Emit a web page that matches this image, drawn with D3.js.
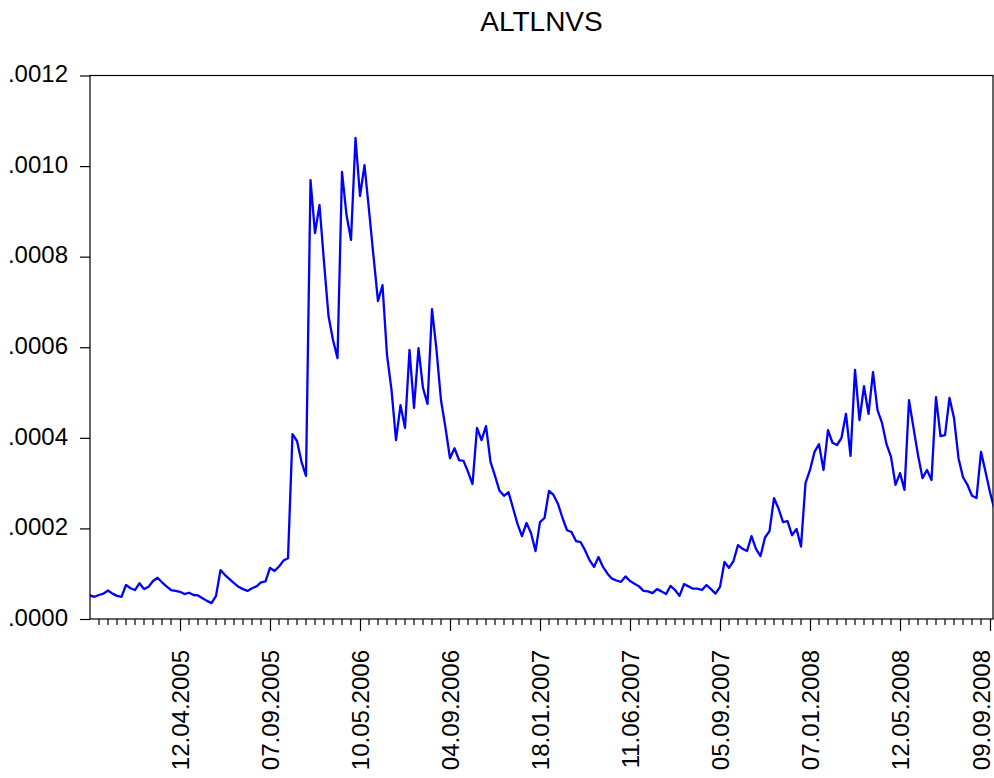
<!DOCTYPE html>
<html>
<head>
<meta charset="utf-8">
<script src="https://cdn.jsdelivr.net/npm/d3@7"></script>
<style>
  html, body { margin: 0; padding: 0; background: #fff; }
  svg { display: block; }
  text { font-family: "Liberation Sans", Arial, sans-serif; fill: #000; }
</style>
</head>
<body>
<svg id="chart" width="994" height="778"></svg>
<script>
// Series title
const seriesName = "ALTLNVS";

// Observations of ALTLNVS, in units of 1e-4 (one value per observation)
const valuesE4 = [
  0.52, 0.49, 0.53, 0.56, 0.63, 0.56, 0.51, 0.49, 0.75, 0.68,
  0.64, 0.79, 0.66, 0.71, 0.84, 0.91, 0.81, 0.72, 0.64, 0.62,
  0.60, 0.55, 0.58, 0.53, 0.52, 0.46, 0.40, 0.35, 0.51, 1.08,
  0.97, 0.88, 0.79, 0.71, 0.66, 0.62, 0.68, 0.72, 0.81, 0.83,
  1.13, 1.06, 1.16, 1.29, 1.34, 4.08, 3.93, 3.47, 3.16, 9.69,
  8.52, 9.14, 7.88, 6.69, 6.16, 5.76, 9.87, 8.92, 8.37, 10.62,
  9.34, 10.02, 9.03, 8.01, 7.02, 7.37, 5.83, 5.06, 3.95, 4.72,
  4.22, 5.94, 4.66, 5.98, 5.10, 4.75, 6.84, 5.94, 4.83, 4.22,
  3.55, 3.77, 3.51, 3.49, 3.25, 2.98, 4.22, 3.95, 4.26, 3.47,
  3.16, 2.83, 2.72, 2.80, 2.45, 2.10, 1.83, 2.12, 1.90, 1.50,
  2.14, 2.23, 2.83, 2.74, 2.54, 2.23, 1.96, 1.92, 1.72, 1.70,
  1.52, 1.30, 1.15, 1.37, 1.15, 1.00, 0.89, 0.85, 0.82, 0.94,
  0.84, 0.78, 0.72, 0.62, 0.61, 0.57, 0.66, 0.61, 0.55, 0.73,
  0.64, 0.51, 0.77, 0.72, 0.67, 0.67, 0.64, 0.75, 0.66, 0.56,
  0.71, 1.26, 1.13, 1.28, 1.63, 1.55, 1.50, 1.83, 1.55, 1.39,
  1.80, 1.94, 2.67, 2.44, 2.14, 2.16, 1.85, 1.99, 1.60, 3.00,
  3.29, 3.69, 3.86, 3.29, 4.17, 3.89, 3.84, 4.00, 4.53, 3.60,
  5.50, 4.39, 5.14, 4.53, 5.45, 4.61, 4.33, 3.86, 3.58, 2.96,
  3.22, 2.85, 4.83, 4.22, 3.62, 3.11, 3.29, 3.07, 4.90, 4.04,
  4.06, 4.88, 4.44, 3.55, 3.13, 2.96, 2.72, 2.67, 3.69, 3.25,
  2.80, 2.41
];

// Labelled observations on the date axis
const dateTickIndex = [20, 40, 60, 80, 100, 120, 140, 160, 180, 200];
const dateTickLabels = [
  "12.04.2005", "07.09.2005", "10.05.2006", "04.09.2006", "18.01.2007",
  "11.06.2007", "05.09.2007", "07.01.2008", "12.05.2008", "09.09.2008"
];

// Value axis ticks
const yTickValues = [0, 0.0002, 0.0004, 0.0006, 0.0008, 0.0010, 0.0012];
const yTickLabels = [".0000", ".0002", ".0004", ".0006", ".0008", ".0010", ".0012"];

const values = valuesE4.map(v => v * 1e-4);

const svg = d3.select("#chart");
const W = 994, H = 778;
const plot = { left: 90, right: 993, top: 75.5, bottom: 619 };
const labelSize = 24;

svg.append("rect").attr("width", W).attr("height", H).attr("fill", "#fff");

// Observation index -> pixel; index 200 sits at the last labelled tick
const x = d3.scaleLinear().domain([0, 200]).range([plot.left, 990]);
const y = d3.scaleLinear().domain([0, 0.0012]).range([plot.bottom, plot.top]);

// Clip the series to the plotting frame
svg.append("defs").append("clipPath").attr("id", "plotClip")
  .append("rect")
  .attr("x", plot.left).attr("y", plot.top - 2)
  .attr("width", plot.right - plot.left).attr("height", plot.bottom - plot.top + 4);

// Series line
const line = d3.line()
  .x((d, i) => x(i))
  .y(d => y(d));

svg.append("path")
  .datum(values)
  .attr("clip-path", "url(#plotClip)")
  .attr("fill", "none")
  .attr("stroke", "#0000ff")
  .attr("stroke-width", 2.3)
  .attr("stroke-linejoin", "round")
  .attr("d", line);

// Frame
svg.append("rect")
  .attr("x", plot.left).attr("y", plot.top)
  .attr("width", plot.right - plot.left)
  .attr("height", plot.bottom - plot.top)
  .attr("fill", "none")
  .attr("stroke", "#000")
  .attr("stroke-width", 1.2);

// Value axis
const yAxis = d3.axisLeft(y)
  .tickValues(yTickValues)
  .tickSize(10)
  .tickPadding(12)
  .tickFormat((d, i) => yTickLabels[i]);

const gy = svg.append("g")
  .attr("transform", `translate(${plot.left},0)`)
  .call(yAxis);
gy.select(".domain").remove();
gy.selectAll(".tick line").attr("stroke", "#000").attr("stroke-width", 1.2);
gy.selectAll(".tick text")
  .attr("font-size", labelSize)
  .attr("font-family", "Liberation Sans, Arial, sans-serif")
  .attr("dy", "0.26em");

// Date axis: minor ticks every second observation, labelled ticks every 20
const minorIdx = d3.range(2, 201, 2).filter(i => !dateTickIndex.includes(i));
const gx = svg.append("g").attr("transform", `translate(0,${plot.bottom})`);

gx.selectAll("line.minor")
  .data(minorIdx)
  .join("line")
  .attr("class", "minor")
  .attr("x1", d => x(d)).attr("x2", d => x(d))
  .attr("y1", 0).attr("y2", 6)
  .attr("stroke", "#000").attr("stroke-width", 1.2);

const xAxis = d3.axisBottom(x)
  .tickValues(dateTickIndex)
  .tickSize(12)
  .tickPadding(10)
  .tickFormat((d, i) => dateTickLabels[i]);

gx.call(xAxis);
gx.select(".domain").remove();
gx.selectAll(".tick line").attr("stroke", "#000").attr("stroke-width", 1.2);

// Rotated date labels; keep the last one inside the page edge
const maxLabelCenter = W - 13;
gx.selectAll(".tick text")
  .attr("font-size", labelSize)
  .attr("font-family", "Liberation Sans, Arial, sans-serif")
  .attr("text-anchor", "end")
  .attr("transform", "rotate(-90)")
  .attr("x", -31)
  .attr("y", d => Math.min(0, maxLabelCenter - x(d)))
  .attr("dy", "0.35em");

// Title
svg.append("text")
  .attr("x", (plot.left + plot.right) / 2)
  .attr("y", 31)
  .attr("text-anchor", "middle")
  .attr("font-size", 28)
  .text(seriesName);
</script>
</body>
</html>
